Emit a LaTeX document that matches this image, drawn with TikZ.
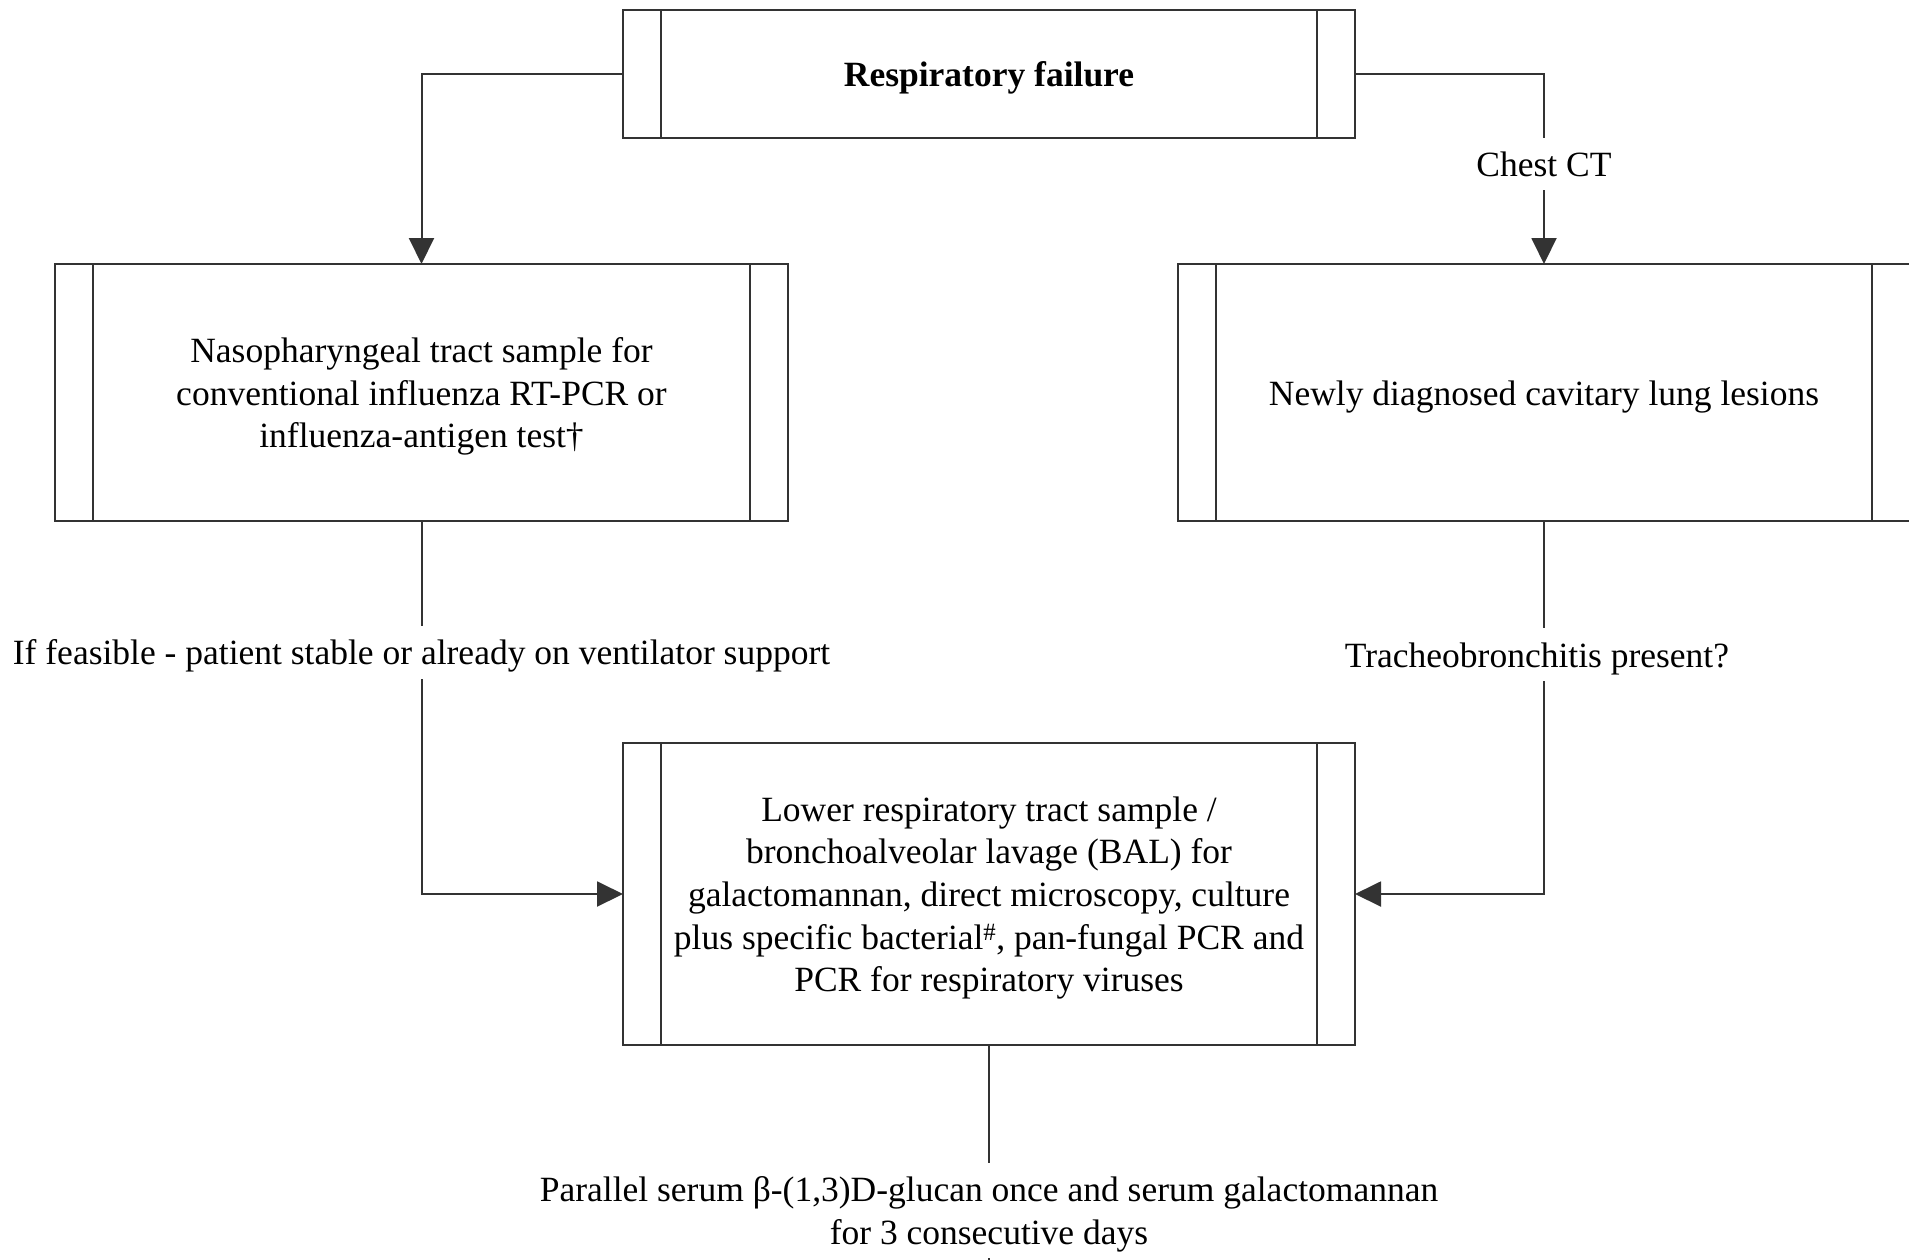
\documentclass[tikz,border=0pt]{standalone}
\usepackage{fontspec}
\setmainfont{Liberation Serif}
\usetikzlibrary{arrows.meta}
\newcommand\lowtxt[1]{\raisebox{-4pt}[\height][\depth]{\begin{tabular}{@{}c@{}}#1\end{tabular}}}
\begin{document}
\begin{tikzpicture}[x=1pt,y=-1pt,
  font=\fontsize{35.5}{42.6}\selectfont,
  linecol/.style={draw=black!80, line width=2pt},
  procbox/.style={linecol, rectangle, inner sep=0pt, outer sep=0pt, align=center, fill=white,
    path picture={\draw[black!80,line width=2pt]
      ([xshift=38pt]path picture bounding box.north west) -- ([xshift=38pt]path picture bounding box.south west)
      ([xshift=-38pt]path picture bounding box.north east) -- ([xshift=-38pt]path picture bounding box.south east);}},
  conn/.style={linecol, -{Triangle[length=26pt,width=25pt]}},
  plainline/.style={linecol},
  lbl/.style={fill=white, inner sep=5pt, align=center, text=black}
]
\useasboundingbox (0,0) rectangle (1909,1259);
\clip (0,0) rectangle (1909,1259);

\node[procbox, minimum width=732pt, minimum height=128pt,
      font=\fontsize{35.5}{42.6}\selectfont\bfseries] (rf) at (989,74) {\lowtxt{Respiratory failure}};

\node[procbox, minimum width=733pt, minimum height=257pt] (naso) at (421.5,392.5)
  {\lowtxt{Nasopharyngeal tract sample for\\conventional influenza RT-PCR or\\influenza-antigen test†}};

\node[procbox, minimum width=732pt, minimum height=257pt] (cav) at (1544,392.5)
  {\lowtxt{Newly diagnosed cavitary lung lesions}};

\node[procbox, minimum width=732pt, minimum height=302pt] (lower) at (989,894)
  {\lowtxt{Lower respiratory tract sample /\\bronchoalveolar lavage (BAL) for\\galactomannan, direct microscopy, culture\\plus specific bacterial\textsuperscript{\#}, pan-fungal PCR and\\PCR for respiratory viruses}};

\coordinate (bottomend) at (989,1280);

\draw[conn] (rf.west) -| (naso.north);
\draw[conn] (rf.east) -| node[lbl, pos=0.737] {\lowtxt{Chest CT}} (cav.north);
\draw[conn] (naso.south) |- node[lbl, pos=0.176] {\lowtxt{If feasible - patient stable or already on ventilator support}} (lower.west);
\draw[conn] (cav.south) |- node[lbl, pos=0.179, xshift=-7pt] {\lowtxt{Tracheobronchitis present?}} (lower.east);
\draw[plainline] (lower.south) -- node[lbl, pos=0.705] {\lowtxt{Parallel serum β-(1,3)D-glucan once and serum galactomannan\\for 3 consecutive days}} (bottomend);
\end{tikzpicture}
\end{document}
